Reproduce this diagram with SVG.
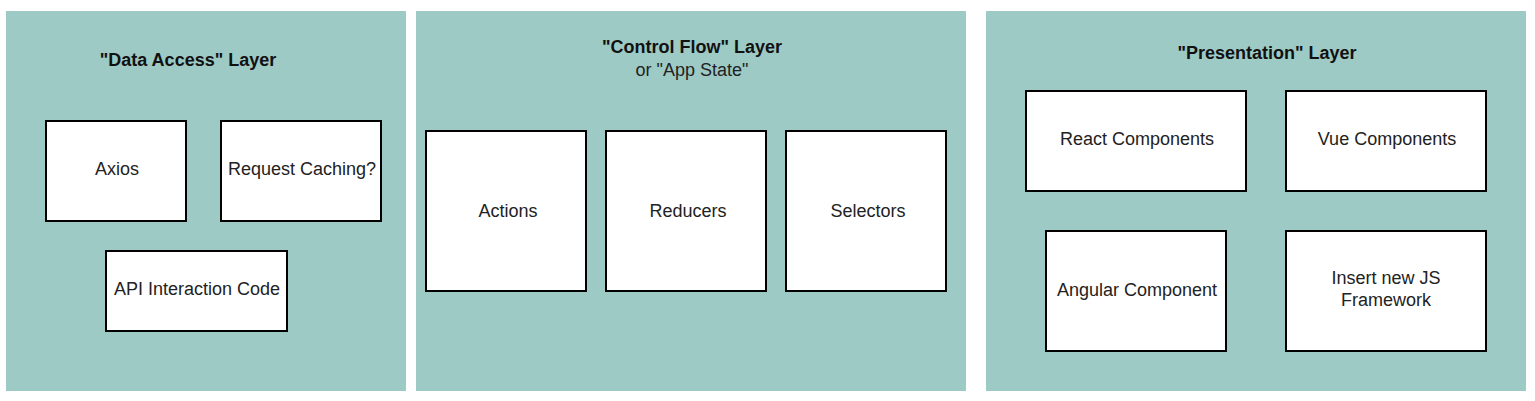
<svg xmlns="http://www.w3.org/2000/svg" width="1535" height="401" viewBox="0 0 1535 401">
<style>
.panel{fill:#9ecac5;stroke:none}
.box{fill:#ffffff;stroke:#000000;stroke-width:2}
.t{font-family:"Liberation Sans",Arial,sans-serif;font-size:18px;fill:#222222;text-anchor:middle}
.h{font-weight:bold;fill:#111111}
</style>
<rect width="1535" height="401" fill="#ffffff"/>
<g id="layer-data-access">
<rect class="panel" x="6" y="11" width="400" height="380"/>
<text class="t h" x="188" y="66">"Data Access" Layer</text>
</g>
<g id="layer-control-flow">
<rect class="panel" x="416" y="11" width="550" height="380"/>
<text class="t h" x="692" y="53">"Control Flow" Layer</text>
<text class="t" x="692" y="76">or "App State"</text>
</g>
<g id="layer-presentation">
<rect class="panel" x="986" y="11" width="540" height="380"/>
<text class="t h" x="1267" y="59">"Presentation" Layer</text>
</g>
<g id="axios"><rect class="box" x="46" y="121" width="140" height="100"/><text class="t" x="117" y="174.5">Axios</text></g>
<g id="request-caching"><rect class="box" x="221" y="121" width="160" height="100"/><text class="t" x="302" y="174.5">Request Caching?</text></g>
<g id="api-interaction"><rect class="box" x="106" y="251" width="181" height="80"/><text class="t" x="197" y="294.5">API Interaction Code</text></g>
<g id="actions"><rect class="box" x="426" y="131" width="160" height="160"/><text class="t" x="508" y="216.5">Actions</text></g>
<g id="reducers"><rect class="box" x="606" y="131" width="160" height="160"/><text class="t" x="688" y="216.5">Reducers</text></g>
<g id="selectors"><rect class="box" x="786" y="131" width="160" height="160"/><text class="t" x="868" y="216.5">Selectors</text></g>
<g id="react"><rect class="box" x="1026" y="91" width="220" height="100"/><text class="t" x="1137" y="144.5">React Components</text></g>
<g id="vue"><rect class="box" x="1286" y="91" width="200" height="100"/><text class="t" x="1387" y="144.5">Vue Components</text></g>
<g id="angular"><rect class="box" x="1046" y="231" width="180" height="120"/><text class="t" x="1137" y="295.5">Angular Component</text></g>
<g id="new-js"><rect class="box" x="1286" y="231" width="200" height="120"/><text class="t" x="1386" y="284">Insert new JS</text><text class="t" x="1386" y="306">Framework</text></g>
<g id="connectors"/>
</svg>
